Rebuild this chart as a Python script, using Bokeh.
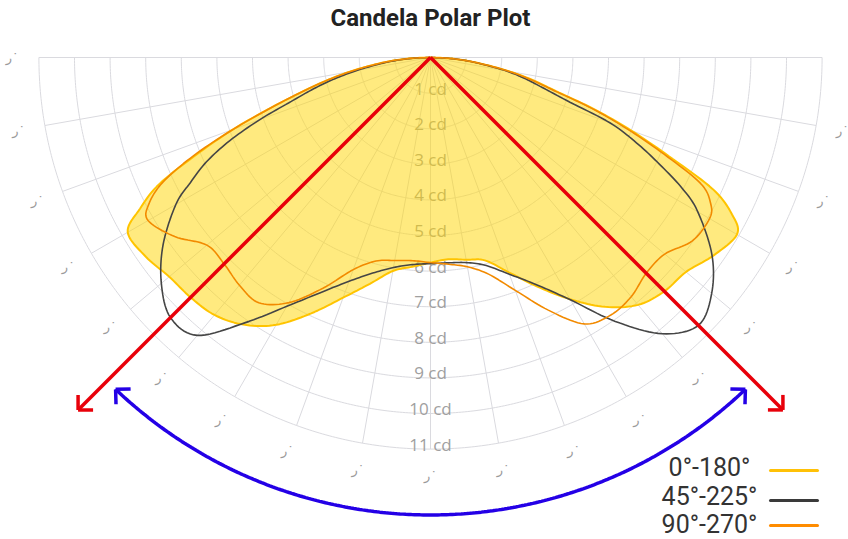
import numpy as np
from bokeh.plotting import figure
from bokeh.models import Label, ColumnDataSource
from bokeh.core.properties import value
from bokeh.embed import file_html
from bokeh.resources import INLINE

# Luminous intensity (cd) against angle from nadir; negative angles are the left half-plane
angles = [-90, -87.5, -85, -82.5, -80, -77.5, -75, -72.5, -70, -67.5, -65, -62.5, -60,
          -55, -50, -45, -40, -35, -30, -25, -20, -15, -10, -5, 0, 5, 10, 15, 20, 25,
          30, 35, 40, 45, 50, 55,
          60, 62.5, 65, 67.5, 70, 72.5, 75, 77.5, 80, 82.5, 85, 87.5, 90]

cd_0_180 = [0, 0.55, 1.1, 1.65, 2.3, 3.0, 3.75, 4.7, 5.9, 7.1, 8.4, 9.2, 9.82,
            9.76, 9.58, 9.53, 9.44, 9.16, 8.67, 7.93, 7.18, 6.58, 6.09, 5.90, 5.76,
            5.69, 5.77, 5.90, 6.42, 7.10, 7.84, 8.55, 9.07, 9.29, 9.37, 9.70,
            9.94, 9.55, 8.75, 7.25, 6.0, 4.8, 3.65, 2.95, 2.25, 1.55, 1.0, 0.5, 0]

cd_45_225 = [0, 0.5, 1.0, 1.5, 2.1, 2.75, 3.4, 4.1, 5.1, 6.1, 6.95, 7.6, 8.26,
             9.17, 9.87, 10.33, 10.19, 9.10, 8.07, 7.28, 6.69, 6.27, 5.99, 5.84, 5.79,
             5.79, 5.85, 6.05, 6.48, 7.04, 7.86, 9.05, 10.13, 10.64, 10.31, 9.65,
             8.67, 7.98, 7.1, 6.26, 5.36, 4.0, 3.25, 2.7, 2.15, 1.5, 1.0, 0.5, 0]

cd_90_270 = [0, 0.55, 1.1, 1.65, 2.3, 3.0, 3.75, 4.7, 5.9, 7.2, 8.3, 8.92, 9.16,
             8.77, 8.2, 8.2, 8.35, 8.41, 7.95, 7.15, 6.34, 5.92, 5.79, 5.73, 5.76,
             5.83, 5.97, 6.30, 6.96, 7.83, 8.64, 8.83, 8.77, 8.57, 8.59, 8.98,
             9.05, 8.87, 8.37, 7.1, 5.9, 4.75, 3.6, 2.9, 2.25, 1.55, 1.0, 0.5, 0]

series_labels = ["0°-180°", "45°-225°", "90°-270°"]
series_colors = ["#FFC107", "#3A3A3A", "#FF8C00"]

ring_values = list(range(1, 12))
ring_labels = [f"{v} cd" for v in ring_values]
spoke_angles = list(range(-90, 91, 10))
angle_tick_angles = list(range(-90, 81, 10))
angle_tick_text = "ر˙"

r_max = 11
beam_half_angle = 45
beam_arrow_len = 14.0
beam_arc_radius = 12.85
beam_arc_half = 43.5

# Canvas geometry
W, H = 848, 539
POLE_X, POLE_Y = 430, 57      # pole position, pixels from top-left
SCALE = 35.6                  # pixels per candela

x_range = (-POLE_X / SCALE, (W - POLE_X) / SCALE)
y_range = (-(H - POLE_Y) / SCALE, POLE_Y / SCALE)


def polar(theta_deg, r):
    t = np.radians(np.asarray(theta_deg, dtype=float))
    r = np.asarray(r, dtype=float)
    return r * np.sin(t), -r * np.cos(t)


def px(x_px, y_px):
    """Pixel position (from top-left) to data units."""
    return (x_px - POLE_X) / SCALE, (POLE_Y - y_px) / SCALE


def spline_path(x, y, n=10):
    """Catmull-Rom curve through the measured points (spline line shape)."""
    P = np.column_stack([x, y])
    P = np.vstack([P[0], P, P[-1]])
    t = np.linspace(0, 1, n, endpoint=False)[:, None]
    out = []
    for i in range(1, len(P) - 2):
        p0, p1, p2, p3 = P[i - 1], P[i], P[i + 1], P[i + 2]
        seg = 0.5 * (2 * p1 + (-p0 + p2) * t
                     + (2 * p0 - 5 * p1 + 4 * p2 - p3) * t ** 2
                     + (-p0 + 3 * p1 - 3 * p2 + p3) * t ** 3)
        out.append(seg)
    out.append(P[-2][None, :])
    path = np.vstack(out)
    return path[:, 0], path[:, 1]


def open_head(tip, direction, arm_px=15):
    """Two arms of an open arrow head at `tip`, opening 45 degrees each side."""
    d = np.asarray(direction, dtype=float)
    d = d / np.hypot(*d)
    back = -d
    L = arm_px / SCALE
    xs, ys = [], []
    for a in (np.pi / 4, -np.pi / 4):
        c, s = np.cos(a), np.sin(a)
        v = np.array([c * back[0] - s * back[1], s * back[0] + c * back[1]])
        xs.append([tip[0], tip[0] + L * v[0]])
        ys.append([tip[1], tip[1] + L * v[1]])
    return xs, ys


p = figure(width=W, height=H, x_range=x_range, y_range=y_range,
           x_axis_location=None, y_axis_location=None,
           output_backend="svg", toolbar_location=None, min_border=0)
p.grid.visible = False
p.outline_line_color = None
p.background_fill_color = "white"
p.border_fill_color = "white"

# Polar grid: rings and spokes
th = np.linspace(-90, 90, 361)
ring_xs, ring_ys = [], []
for v in ring_values:
    x, y = polar(th, np.full_like(th, v))
    ring_xs.append(x.tolist())
    ring_ys.append(y.tolist())
p.multi_line(ring_xs, ring_ys, line_color="#DADADF", line_width=1)

sx, sy = polar(spoke_angles, [r_max] * len(spoke_angles))
p.segment(x0=[0] * len(spoke_angles), y0=[0] * len(spoke_angles), x1=sx, y1=sy,
          line_color="#DADADF", line_width=1)

# Radial tick labels
ring_src = ColumnDataSource(dict(x=[0] * len(ring_values),
                                 y=[-v + 5 / SCALE for v in ring_values],
                                 t=ring_labels))
p.text(x="x", y="y", text="t", source=ring_src, text_align="center",
       text_baseline="middle", text_font=value("Open Sans"),
       text_font_size="17px", text_color="#A0A0A0")

# Angular tick labels
ax, ay = polar(angle_tick_angles, [11.75] * len(angle_tick_angles))
p.text(x=ax, y=ay, text=[angle_tick_text] * len(angle_tick_angles),
       text_align="center", text_baseline="middle", text_font=value("DejaVu Sans"),
       text_font_size="13px", text_color="#9A9A9A")

# Intensity curves
yx, yy = spline_path(*polar(angles, cd_0_180))
p.patch(yx, yy, fill_color="#FFD600", fill_alpha=0.5,
        line_color="#FFC400", line_width=2)
gx, gy = spline_path(*polar(angles, cd_45_225))
p.line(gx, gy, line_color="#454545", line_width=1.6)
ox, oy = spline_path(*polar(angles, cd_90_270))
p.line(ox, oy, line_color="#F28A00", line_width=1.6)

# Beam angle rays
RED = "#E8000A"
for sgn in (-1, 1):
    tx, ty = polar(sgn * beam_half_angle, beam_arrow_len)
    p.line([0, float(tx)], [0, float(ty)], line_color=RED, line_width=3.5)
    hx, hy = open_head((float(tx), float(ty)), (float(tx), float(ty)), arm_px=15)
    p.multi_line(hx, hy, line_color=RED, line_width=3.5)

# Beam spread arc with arrow heads
BLUE = "#2400E6"
arc_th = np.linspace(-beam_arc_half, beam_arc_half, 240)
bx, by = polar(arc_th, np.full_like(arc_th, beam_arc_radius))
p.line(bx, by, line_color=BLUE, line_width=3.5)
for sgn in (-1, 1):
    t = np.radians(sgn * beam_arc_half)
    tip = polar(sgn * beam_arc_half, beam_arc_radius)
    direction = (sgn * np.cos(t), sgn * np.sin(t))
    hx, hy = open_head((float(tip[0]), float(tip[1])), direction, arm_px=15)
    p.multi_line(hx, hy, line_color=BLUE, line_width=3.5)

# Legend: label followed by a line sample
legend_text_y = [467, 496, 524]
legend_line_y = [470, 500, 525]
for lab, col, ty, ly in zip(series_labels, series_colors, legend_text_y, legend_line_y):
    p.add_layout(Label(x=709, y=H - ty, x_units="screen", y_units="screen", text=lab,
                       text_align="center", text_baseline="middle",
                       text_font="Roboto", text_font_size="25px", text_color="#333333"))
    x0, y0 = px(770, ly)
    x1, y1 = px(817, ly)
    p.segment(x0=[x0], y0=[y0], x1=[x1], y1=[y1], line_color=col, line_width=3,
              line_cap="round")

# Title
p.add_layout(Label(x=430, y=H - 17, x_units="screen", y_units="screen",
                   text="Candela Polar Plot", text_align="center", text_baseline="middle",
                   text_font="Roboto", text_font_style="bold", text_font_size="24px",
                   text_color="#222222"))

open("out.html", "w").write(file_html(p, INLINE))
